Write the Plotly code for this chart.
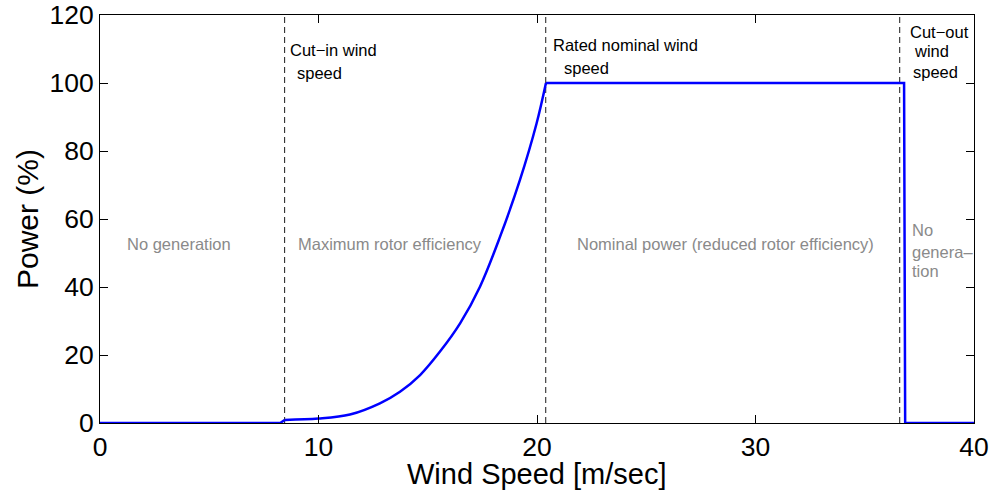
import plotly.graph_objects as go

# ---- data ----
curve_speed = [8.45, 10.0, 11.44, 12.81, 13.73, 14.65, 15.56, 16.48, 17.39, 18.31, 19.22, 19.98, 20.41]
curve_power = [0.9, 1.3, 2.5, 5.8, 9.2, 14.1, 21.0, 29.3, 40.1, 54.8, 71.5, 88.1, 100.0]

low_speed = [0, 8.25, 8.45]
low_power = [0, 0, 0.9]

high_speed = [20.41, 36.8, 36.85, 40]
high_power = [100, 100, 0, 0]

boundary_speeds = [8.45, 20.4, 36.6]

region_labels = ["No generation", "Maximum rotor efficiency",
                 "Nominal power (reduced rotor efficiency)"]
region_x = [3.62, 13.25, 28.62]
region_y = 52.6

x_title = "Wind Speed [m/sec]"
y_title = "Power (%)"

fig = go.Figure()
blue = "#0000FF"
for xs, ys, shape in [(low_speed, low_power, "linear"),
                      (curve_speed, curve_power, "spline"),
                      (high_speed, high_power, "linear")]:
    fig.add_trace(go.Scatter(x=xs, y=ys, mode="lines", line=dict(color=blue, width=2.5, shape=shape),
                             cliponaxis=False, showlegend=False, hoverinfo="skip"))

shapes = []
for xb in boundary_speeds:
    shapes.append(dict(type="line", xref="x", yref="y", x0=xb, x1=xb, y0=0, y1=120,
                       line=dict(color="#1a1a1a", width=1, dash="6px,4px"), layer="below"))

ann = []
gray = "#8a8a8a"
fnt = "Liberation Sans, Arial, Helvetica, sans-serif"
asz = 16.5
for t, xx in zip(region_labels, region_x):
    ann.append(dict(x=xx, y=region_y, text=t, showarrow=False, xanchor="center", yanchor="middle",
                    font=dict(family=fnt, size=asz, color=gray)))

# grey multi-line label in last region
for t, yy in [("No", 56.8), ("genera\u2013", 50.4), ("tion", 44.8)]:
    ann.append(dict(x=37.05, y=yy, text=t, showarrow=False, xanchor="left", yanchor="middle",
                    font=dict(family=fnt, size=asz, color=gray)))

# black boundary labels
black_labels = [
    ("Cut\u2212in wind", 8.6, 109.7), ("speed", 8.92, 102.9),
    ("Rated nominal wind", 20.62, 111.2), ("speed", 21.14, 104.4),
    ("Cut\u2212out", 36.98, 115.1), ("wind", 37.14, 109.5), ("speed", 37.1, 103.3),
]
for t, xx, yy in black_labels:
    ann.append(dict(x=xx, y=yy, text=t, showarrow=False, xanchor="left", yanchor="middle",
                    font=dict(family=fnt, size=asz, color="black")))

# x-axis title placed close under the tick labels (as in the reference)
ann.append(dict(x=0.5, xref="paper", y=-0.125, yref="paper", text=x_title, showarrow=False,
                xanchor="center", yanchor="middle", font=dict(family=fnt, size=29, color="black")))

axis_common = dict(showline=True, mirror="ticks", linecolor="black", linewidth=1,
                   ticks="inside", ticklen=8, tickcolor="black", showgrid=False, zeroline=False,
                   automargin=False,
                   tickfont=dict(family=fnt, size=26.5, color="black"))

fig.update_layout(
    width=998, height=491,
    margin=dict(l=100, r=24, t=15, b=68),
    paper_bgcolor="white", plot_bgcolor="white",
    xaxis=dict(range=[0, 40], tickvals=[0, 10, 20, 30, 40], **axis_common),
    yaxis=dict(range=[0, 120], tickvals=[0, 20, 40, 60, 80, 100, 120],
               title=dict(text=y_title, font=dict(family=fnt, size=30, color="black"), standoff=1),
               **axis_common),
    shapes=shapes, annotations=ann,
)

fig.write_html("out.html")
